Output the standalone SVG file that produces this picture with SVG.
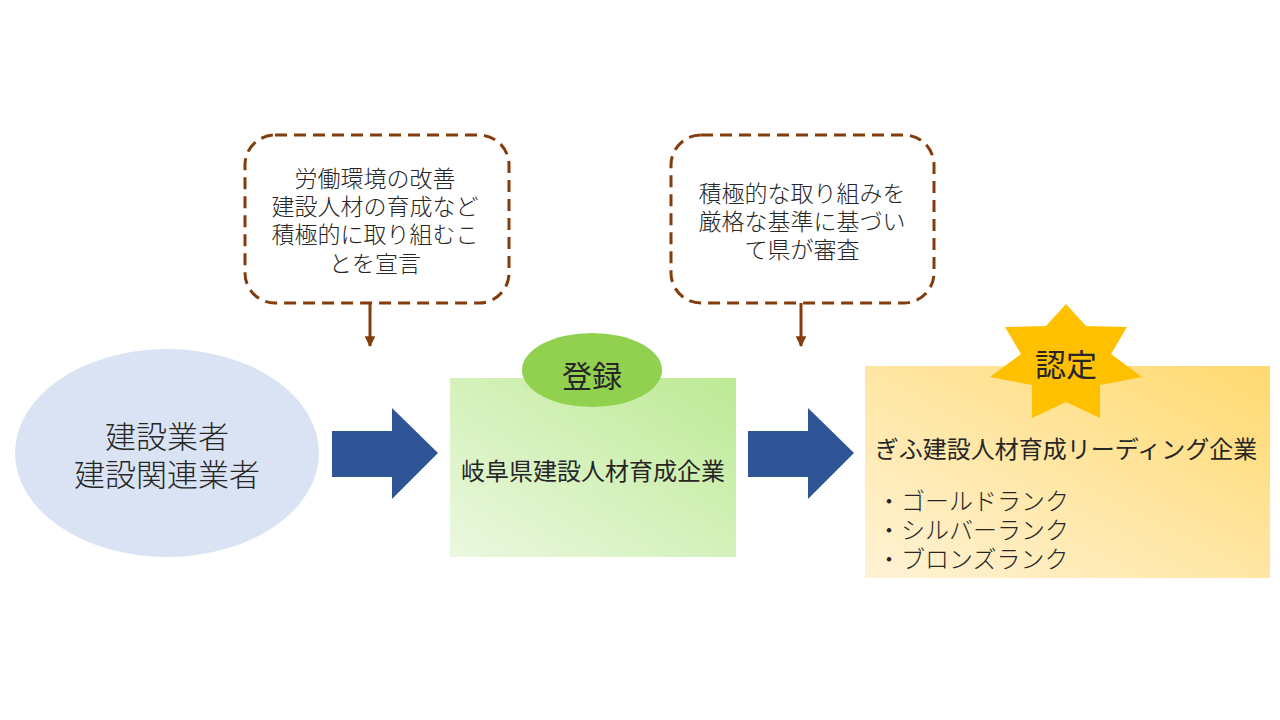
<svg xmlns="http://www.w3.org/2000/svg" width="1280" height="720" viewBox="0 0 1280 720">
<defs>
<style>
.t{font-family:"Noto Sans CJK JP","Noto Sans CJK SC",sans-serif;dominant-baseline:central;text-anchor:middle;fill:#262626}
.thin{font-weight:300}
.left{text-anchor:start}
.callout{fill:#fff;stroke:#843c0c;stroke-width:3;stroke-dasharray:12 7}
.down{stroke:#843c0c;stroke-width:3;fill:none}
.blue{fill:#2f5597}
</style>
<linearGradient id="gGreen" x1="0" y1="1" x2="1" y2="0">
<stop offset="0" stop-color="#ebf8e0"/>
<stop offset="1" stop-color="#bdea95"/>
</linearGradient>
<linearGradient id="gOrange" x1="0" y1="1" x2="1" y2="0">
<stop offset="0" stop-color="#fff3d6"/>
<stop offset="1" stop-color="#ffd970"/>
</linearGradient>
<marker id="ah" viewBox="0 0 10 10" refX="9" refY="5" markerWidth="3.6" markerHeight="3.6" orient="auto">
<path d="M0,0 L10,5 L0,10 Z" fill="#843c0c"/>
</marker>
</defs>
<rect width="1280" height="720" fill="#fff"/>

<g id="callout-declare">
<rect class="callout" x="245" y="135" width="264" height="168" rx="30"/>
<text class="t thin" x="375" y="177" font-size="23">労働環境の改善</text>
<text class="t thin" x="375" y="205" font-size="23">建設人材の育成など</text>
<text class="t thin" x="375" y="233" font-size="23">積極的に取り組むこ</text>
<text class="t thin" x="375" y="262" font-size="23">とを宣言</text>
</g>

<g id="callout-review">
<rect class="callout" x="671" y="135" width="263" height="168" rx="30"/>
<text class="t thin" x="802" y="192" font-size="23">積極的な取り組みを</text>
<text class="t thin" x="802" y="220" font-size="23">厳格な基準に基づい</text>
<text class="t thin" x="802" y="248" font-size="23">て県が審査</text>
</g>

<g id="contractors">
<ellipse cx="167" cy="453" rx="152" ry="104" fill="#dae3f3"/>
<text class="t thin" x="167" y="434" font-size="31">建設業者</text>
<text class="t thin" x="167" y="472" font-size="31">建設関連業者</text>
</g>

<g id="registered">
<rect x="450" y="378" width="286" height="179" fill="url(#gGreen)"/>
<ellipse cx="592" cy="370" rx="70" ry="37" fill="#92d050"/>
<text class="t" x="592" y="374" font-size="30">登録</text>
<text class="t" x="593" y="469" font-size="24">岐阜県建設人材育成企業</text>
</g>

<g id="certified">
<rect x="865" y="366" width="405" height="212" fill="url(#gOrange)"/>
<polygon id="star" fill="#ffc000" points="1066,304 1086,326 1127,327 1111,354 1142,377 1100,385 1100,418 1066,402 1032,418 1032,385 990,377 1021,354 1005,327 1046,326"/>
<text class="t" x="1066" y="362" font-size="31">認定</text>
<text class="t" x="1066" y="447" font-size="24">ぎふ建設人材育成リーディング企業</text>
<text class="t thin left" x="877" y="499" font-size="24">・ゴールドランク</text>
<text class="t thin left" x="877" y="528" font-size="24">・シルバーランク</text>
<text class="t thin left" x="877" y="557" font-size="24">・ブロンズランク</text>
</g>

<g id="connectors">
<polygon class="blue" points="332,431 392,431 392,408 438,453 392,499 392,477 332,477"/>
<polygon class="blue" points="748,431 808,431 808,408 854,453 808,499 808,477 748,477"/>
<line class="down" x1="370" y1="303" x2="370" y2="346" marker-end="url(#ah)"/>
<line class="down" x1="801" y1="303" x2="801" y2="346" marker-end="url(#ah)"/>
</g>
</svg>
